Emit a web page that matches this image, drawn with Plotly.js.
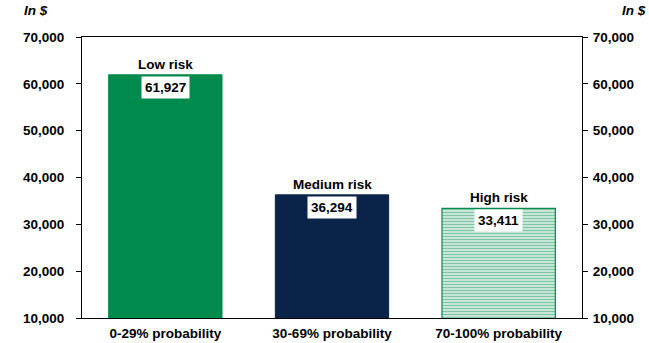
<!DOCTYPE html>
<html><head><meta charset="utf-8">
<script src="https://cdn.plot.ly/plotly-3.0.1.min.js"></script>
<style>html,body{margin:0;padding:0;background:#fff}#c{width:649px;height:343px}</style>
</head><body><div id="c"></div>
<script>
const categories = ["0-29% probability", "30-69% probability", "70-100% probability"];
const riskLabels = ["Low risk", "Medium risk", "High risk"];
const values = [61927, 36294, 33411];
const yTicks = [10000, 20000, 30000, 40000, 50000, 60000, 70000];
const unitLabel = "In $";

const green = "#008A4B", navy = "#0A2348";
const F = "Liberation Sans, Arial, sans-serif";
const FS = 13.5;

const styles = [
  {color: green, line: {color: green, width: 1}},
  {color: navy, line: {color: navy, width: 1}},
  {color: "#ffffff", line: {color: green, width: 1.2},
   pattern: {shape: "-", fgcolor: green, bgcolor: "#ffffff", size: 3, solidity: 0.62, fillmode: "overlay"}}
];

const traces = categories.map((c, i) => ({
  type: "bar", x: [c], y: [values[i]], width: 0.68,
  marker: styles[i], hoverinfo: "none"
}));
traces.push({
  type: "scatter", x: categories, y: values, yaxis: "y2", mode: "markers",
  marker: {opacity: 0}, showlegend: false, hoverinfo: "none"
});

const annotations = [];
categories.forEach((c, i) => {
  annotations.push({x: c, y: values[i], yref: "y", text: "<b>" + riskLabels[i] + "</b>",
    showarrow: false, yanchor: "bottom", yshift: 1, font: {family: F, size: FS, color: "#000"}});
  annotations.push({x: c, y: values[i], yref: "y", text: "<b>" + values[i].toLocaleString("en-US") + "</b>",
    showarrow: false, yanchor: "top", yshift: -1, bgcolor: "#ffffff", borderpad: 3,
    font: {family: F, size: FS, color: "#000"}});
});
annotations.push({xref: "paper", yref: "paper", x: -0.12, y: 1.06, xanchor: "left", yanchor: "bottom",
  text: "<b><i>" + unitLabel + "</i></b>", showarrow: false, font: {family: F, size: FS, color: "#000"}});
annotations.push({xref: "paper", yref: "paper", x: 1.132, y: 1.06, xanchor: "right", yanchor: "bottom",
  text: "<b><i>" + unitLabel + "</i></b>", showarrow: false, font: {family: F, size: FS, color: "#000"}});

const axisY = {
  range: [10000, 70000], tickvals: yTicks, ticktext: yTicks.map(v => "<b>" + v.toLocaleString("en-US") + "</b>"),
  ticks: "outside", ticklen: 5, tickcolor: "#000", showline: true, linecolor: "#000", linewidth: 1,
  showgrid: false, zeroline: false, tickfont: {family: F, size: FS, color: "#000"}, fixedrange: true
};

const layout = {
  width: 649, height: 343,
  margin: {l: 82, r: 67, t: 37, b: 25},
  paper_bgcolor: "#fff", plot_bgcolor: "#fff",
  showlegend: false, barmode: "overlay",
  xaxis: {
    showline: true, linecolor: "#000", linewidth: 1, mirror: true, ticks: "",
    tickvals: categories, ticktext: categories.map(c => "<b>" + c + "</b>"),
    tickfont: {family: F, size: FS, color: "#000"}, fixedrange: true, ticklabelstandoff: 3
  },
  yaxis: Object.assign({}, axisY, {ticklabelstandoff: 9}),
  yaxis2: Object.assign({}, axisY, {overlaying: "y", side: "right", ticklabelstandoff: 2}),
  annotations: annotations
};

Plotly.newPlot("c", traces, layout, {staticPlot: true});
</script></body></html>
